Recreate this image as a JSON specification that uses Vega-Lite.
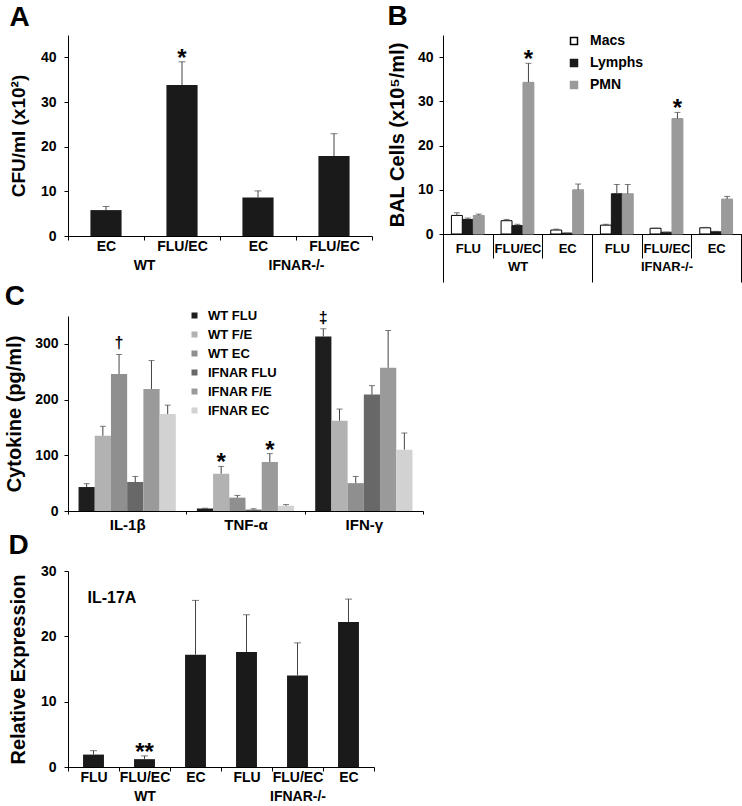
{
  "$schema": "https://vega.github.io/schema/vega-lite/v6.json",
  "padding": {"left": 4, "top": 3, "right": 0, "bottom": 0},
  "background": "white",
  "config": {
    "font": "Liberation Sans",
    "view": {"stroke": null},
    "axis": {"grid": false, "labelFontWeight": "bold", "titleFontWeight": "bold", "labelColor": "#000", "titleColor": "#000", "domainColor": "#000", "tickColor": "#000", "labelFontSize": 14, "domainWidth": 1, "tickWidth": 1},
    "title": {"fontSize": 28, "fontWeight": "bold", "anchor": "start", "frame": "bounds", "color": "#000", "offset": 3},
    "legend": {"labelFontWeight": "bold", "labelColor": "#000", "padding": 0}
  },
  "spacing": 0,
  "resolve": {"scale": {"color": "independent", "stroke": "independent", "xOffset": "independent"}, "legend": {"color": "independent", "stroke": "independent"}},
  "vconcat": [
    {
      "spacing": 14,
      "resolve": {"scale": {"color": "independent", "stroke": "independent", "xOffset": "independent"}, "legend": {"color": "independent", "stroke": "independent"}},
      "hconcat": [
        {
          "title": {"text": "A"},
          "width": 304, "height": 201,
          "data": {"values": [
            {"genotype": "WT", "cond": "WT EC", "mean": 5.8, "err": 6.6, "sig": ""},
            {"genotype": "WT", "cond": "WT FLU/EC", "mean": 33.8, "err": 39.0, "sig": "*"},
            {"genotype": "IFNAR-/-", "cond": "IFNAR-/- EC", "mean": 8.6, "err": 10.1, "sig": ""},
            {"genotype": "IFNAR-/-", "cond": "IFNAR-/- FLU/EC", "mean": 17.9, "err": 22.9, "sig": ""}
          ]},
          "resolve": {"scale": {"x": "independent"}},
          "layer": [
            {
              "encoding": {
                "x": {"field": "cond", "type": "nominal", "sort": null, "scale": {"paddingInner": 0, "paddingOuter": 0},
                  "axis": {"orient": "bottom", "title": null, "labelAngle": 0, "tickBand": "extent", "tickSize": 4, "labelPadding": -1, "labelExpr": "substring(datum.label, indexof(datum.label, ' ') + 1)"}}
              },
              "layer": [
                {"mark": {"type": "bar", "color": "#1a1a1a", "width": {"band": 0.41}},
                 "encoding": {"y": {"field": "mean", "type": "quantitative", "scale": {"domain": [0, 45], "nice": false},
                   "axis": {"title": "CFU/ml (x10²)", "values": [0, 5, 10, 15, 20, 25, 30, 35, 40, 45], "labelExpr": "datum.value % 10 === 0 ? datum.label : ''", "tickSize": 4, "labelPadding": 8, "titleFontSize": 19, "titlePadding": 12}}}},
                {"mark": {"type": "rule", "color": "#444", "strokeWidth": 1},
                 "encoding": {"y": {"field": "mean", "type": "quantitative"}, "y2": {"field": "err"}}},
                {"mark": {"type": "tick", "color": "#444", "thickness": 1, "size": 7},
                 "encoding": {"y": {"field": "err", "type": "quantitative"}}},
                {"mark": {"type": "text", "fontSize": 24, "fontWeight": "bold", "baseline": "alphabetic", "dy": 4},
                 "encoding": {"y": {"field": "err", "type": "quantitative"}, "text": {"field": "sig"}}}
              ]
            },
            {
              "mark": {"type": "text", "text": ""},
              "encoding": {
                "x": {"field": "genotype", "type": "nominal", "sort": ["WT", "IFNAR-/-"], "scale": {"paddingInner": 0, "paddingOuter": 0},
                  "axis": {"orient": "bottom", "title": null, "labelAngle": 0, "domain": false, "ticks": false, "labelPadding": 22}}
              }
            }
          ]
        },
        {
          "title": {"text": "B"},
          "width": 298, "height": 199,
          "data": {"values": [
            {"genotype": "WT", "cond": "WT FLU", "cell": "Macs", "mean": 4.2, "err": 4.8, "sig": ""},
            {"genotype": "WT", "cond": "WT FLU", "cell": "Lymphs", "mean": 3.3, "err": 3.6, "sig": ""},
            {"genotype": "WT", "cond": "WT FLU", "cell": "PMN", "mean": 4.2, "err": 4.5, "sig": ""},
            {"genotype": "WT", "cond": "WT FLU/EC", "cell": "Macs", "mean": 3.0, "err": 3.3, "sig": ""},
            {"genotype": "WT", "cond": "WT FLU/EC", "cell": "Lymphs", "mean": 1.9, "err": 2.2, "sig": ""},
            {"genotype": "WT", "cond": "WT FLU/EC", "cell": "PMN", "mean": 34.3, "err": 38.6, "sig": "*"},
            {"genotype": "WT", "cond": "WT EC", "cell": "Macs", "mean": 0.9, "err": 1.1, "sig": ""},
            {"genotype": "WT", "cond": "WT EC", "cell": "Lymphs", "mean": 0.2, "err": 0.2, "sig": ""},
            {"genotype": "WT", "cond": "WT EC", "cell": "PMN", "mean": 10.0, "err": 11.3, "sig": ""},
            {"genotype": "IFNAR-/-", "cond": "IFNAR-/- FLU", "cell": "Macs", "mean": 2.0, "err": 2.2, "sig": ""},
            {"genotype": "IFNAR-/-", "cond": "IFNAR-/- FLU", "cell": "Lymphs", "mean": 9.1, "err": 11.2, "sig": ""},
            {"genotype": "IFNAR-/-", "cond": "IFNAR-/- FLU", "cell": "PMN", "mean": 9.1, "err": 11.2, "sig": ""},
            {"genotype": "IFNAR-/-", "cond": "IFNAR-/- FLU/EC", "cell": "Macs", "mean": 1.3, "err": 1.3, "sig": ""},
            {"genotype": "IFNAR-/-", "cond": "IFNAR-/- FLU/EC", "cell": "Lymphs", "mean": 0.4, "err": 0.4, "sig": ""},
            {"genotype": "IFNAR-/-", "cond": "IFNAR-/- FLU/EC", "cell": "PMN", "mean": 26.1, "err": 27.5, "sig": "*"},
            {"genotype": "IFNAR-/-", "cond": "IFNAR-/- EC", "cell": "Macs", "mean": 1.4, "err": 1.5, "sig": ""},
            {"genotype": "IFNAR-/-", "cond": "IFNAR-/- EC", "cell": "Lymphs", "mean": 0.5, "err": 0.6, "sig": ""},
            {"genotype": "IFNAR-/-", "cond": "IFNAR-/- EC", "cell": "PMN", "mean": 7.9, "err": 8.5, "sig": ""}
          ]},
          "resolve": {"scale": {"x": "independent"}},
          "layer": [
            {
              "encoding": {
                "x": {"field": "cond", "type": "nominal", "sort": null, "scale": {"paddingInner": 0, "paddingOuter": 0},
                  "axis": {"orient": "bottom", "title": null, "labelAngle": 0, "tickBand": "extent", "tickSize": 24, "labelPadding": -16, "labelFontSize": 13, "labelExpr": "substring(datum.label, indexof(datum.label, ' ') + 1)"}},
                "xOffset": {"field": "cell", "type": "nominal", "sort": ["Macs", "Lymphs", "PMN"], "scale": {"domain": ["Macs", "Lymphs", "PMN"], "paddingInner": 0, "paddingOuter": 0.77}}
              },
              "layer": [
                {"mark": {"type": "bar", "strokeWidth": 1},
                 "encoding": {
                   "y": {"field": "mean", "type": "quantitative", "scale": {"domain": [0, 45], "nice": false},
                     "axis": {"title": "BAL Cells (x10⁵/ml)", "values": [0, 5, 10, 15, 20, 25, 30, 35, 40, 45], "labelExpr": "datum.value % 10 === 0 ? datum.label : ''", "tickSize": 4, "labelPadding": 6, "titleFontSize": 20, "titlePadding": 10}},
                   "color": {"field": "cell", "type": "nominal", "sort": ["Macs", "Lymphs", "PMN"], "scale": {"domain": ["Macs", "Lymphs", "PMN"], "range": ["#ffffff", "#1a1a1a", "#9a9a9a"]},
                     "legend": {"title": null, "orient": "none", "legendX": 124, "legendY": -1, "symbolType": "square", "symbolSize": 49, "labelFontSize": 14, "rowPadding": 8, "labelOffset": 9}},
                   "stroke": {"field": "cell", "type": "nominal", "sort": ["Macs", "Lymphs", "PMN"], "scale": {"domain": ["Macs", "Lymphs", "PMN"], "range": ["#000000", "#1a1a1a", "#9a9a9a"]},
                     "legend": {"title": null, "orient": "none", "legendX": 124, "legendY": -1, "symbolType": "square", "symbolSize": 49, "labelFontSize": 14, "rowPadding": 8, "labelOffset": 9}}
                 }},
                {"mark": {"type": "rule", "color": "#444", "strokeWidth": 1},
                 "encoding": {"y": {"field": "mean", "type": "quantitative"}, "y2": {"field": "err"}}},
                {"mark": {"type": "tick", "color": "#444", "thickness": 1, "size": 6},
                 "encoding": {"y": {"field": "err", "type": "quantitative"}}},
                {"mark": {"type": "text", "fontSize": 24, "fontWeight": "bold", "baseline": "alphabetic", "dy": 4},
                 "encoding": {"y": {"field": "err", "type": "quantitative"}, "text": {"field": "sig"}}}
              ]
            },
            {
              "mark": {"type": "text", "text": ""},
              "encoding": {
                "x": {"field": "genotype", "type": "nominal", "sort": ["WT", "IFNAR-/-"], "scale": {"paddingInner": 0, "paddingOuter": 0},
                  "axis": {"orient": "bottom", "title": null, "labelAngle": 0, "domain": false, "tickBand": "extent", "tickSize": 48, "labelPadding": -22, "labelFontSize": 13}}
              }
            }
          ]
        }
      ]
    },
    {
      "title": {"text": "C", "offset": -2},
      "width": 355, "height": 195,
      "data": {"values": [
        {"cytokine": "IL-1β", "group": "WT FLU", "mean": 43, "err": 49, "sig": ""},
        {"cytokine": "IL-1β", "group": "WT F/E", "mean": 135, "err": 152, "sig": ""},
        {"cytokine": "IL-1β", "group": "WT EC", "mean": 246, "err": 281, "sig": "†"},
        {"cytokine": "IL-1β", "group": "IFNAR FLU", "mean": 52, "err": 62, "sig": ""},
        {"cytokine": "IL-1β", "group": "IFNAR F/E", "mean": 219, "err": 270, "sig": ""},
        {"cytokine": "IL-1β", "group": "IFNAR EC", "mean": 174, "err": 190, "sig": ""},
        {"cytokine": "TNF-α", "group": "WT FLU", "mean": 4.5, "err": 5, "sig": ""},
        {"cytokine": "TNF-α", "group": "WT F/E", "mean": 67, "err": 80, "sig": "*"},
        {"cytokine": "TNF-α", "group": "WT EC", "mean": 24, "err": 28, "sig": ""},
        {"cytokine": "TNF-α", "group": "IFNAR FLU", "mean": 2.5, "err": 4, "sig": ""},
        {"cytokine": "TNF-α", "group": "IFNAR F/E", "mean": 88, "err": 103, "sig": "*"},
        {"cytokine": "TNF-α", "group": "IFNAR EC", "mean": 9.5, "err": 11.5, "sig": ""},
        {"cytokine": "IFN-γ", "group": "WT FLU", "mean": 313, "err": 327, "sig": "‡"},
        {"cytokine": "IFN-γ", "group": "WT F/E", "mean": 162, "err": 183, "sig": ""},
        {"cytokine": "IFN-γ", "group": "WT EC", "mean": 50, "err": 62, "sig": ""},
        {"cytokine": "IFN-γ", "group": "IFNAR FLU", "mean": 209, "err": 225, "sig": ""},
        {"cytokine": "IFN-γ", "group": "IFNAR F/E", "mean": 257, "err": 324, "sig": ""},
        {"cytokine": "IFN-γ", "group": "IFNAR EC", "mean": 110, "err": 140, "sig": ""}
      ]},
      "encoding": {
        "x": {"field": "cytokine", "type": "nominal", "sort": null, "scale": {"paddingInner": 0, "paddingOuter": 0},
          "axis": {"title": null, "labelAngle": 0, "tickBand": "extent", "tickSize": 3, "labelPadding": 3, "labelFontSize": 15}},
        "xOffset": {"field": "group", "type": "nominal", "sort": ["WT FLU", "WT F/E", "WT EC", "IFNAR FLU", "IFNAR F/E", "IFNAR EC"], "scale": {"domain": ["WT FLU", "WT F/E", "WT EC", "IFNAR FLU", "IFNAR F/E", "IFNAR EC"], "paddingInner": 0, "paddingOuter": 0.65}}
      },
      "layer": [
        {"mark": {"type": "bar"},
         "encoding": {
           "y": {"field": "mean", "type": "quantitative", "scale": {"domain": [0, 350], "nice": false},
             "axis": {"title": "Cytokine (pg/ml)", "values": [0, 50, 100, 150, 200, 250, 300, 350], "labelExpr": "datum.value % 100 === 0 ? datum.label : ''", "tickSize": 4, "labelPadding": 6, "titleFontSize": 20, "titlePadding": 10}},
           "color": {"field": "group", "type": "nominal", "sort": ["WT FLU", "WT F/E", "WT EC", "IFNAR FLU", "IFNAR F/E", "IFNAR EC"],
             "scale": {"domain": ["WT FLU", "WT F/E", "WT EC", "IFNAR FLU", "IFNAR F/E", "IFNAR EC"], "range": ["#1e1e1e", "#b2b2b2", "#8f8f8f", "#686868", "#9a9a9a", "#d2d2d2"]},
             "legend": {"title": null, "orient": "none", "legendX": 120, "legendY": -7, "symbolType": "square", "symbolSize": 36, "symbolStrokeWidth": 0, "labelFontSize": 13, "rowPadding": 5, "labelOffset": 7}}
         }},
        {"mark": {"type": "rule", "color": "#444", "strokeWidth": 1},
         "encoding": {"y": {"field": "mean", "type": "quantitative"}, "y2": {"field": "err"}}},
        {"mark": {"type": "tick", "color": "#444", "thickness": 1, "size": 6},
         "encoding": {"y": {"field": "err", "type": "quantitative"}}},
        {"transform": [{"filter": "datum.sig === '*'"}],
         "mark": {"type": "text", "fontSize": 24, "fontWeight": "bold", "baseline": "alphabetic", "dy": 4},
         "encoding": {"y": {"field": "err", "type": "quantitative"}, "text": {"field": "sig"}}},
        {"transform": [{"filter": "datum.sig === '†' || datum.sig === '‡'"}],
         "mark": {"type": "text", "fontSize": 16, "fontWeight": "bold", "color": "#000", "baseline": "alphabetic", "dy": -6},
         "encoding": {"y": {"field": "err", "type": "quantitative"}, "text": {"field": "sig"}}}
      ]
    },
    {
      "title": {"text": "D", "offset": 4},
      "width": 306, "height": 196,
      "resolve": {"scale": {"x": "independent"}},
      "layer": [
        {
          "data": {"values": [
            {"genotype": "WT", "cond": "WT FLU", "mean": 1.9, "err": 2.5, "sig": ""},
            {"genotype": "WT", "cond": "WT FLU/EC", "mean": 1.2, "err": 1.7, "sig": "**"},
            {"genotype": "WT", "cond": "WT EC", "mean": 17.2, "err": 25.5, "sig": ""},
            {"genotype": "IFNAR-/-", "cond": "IFNAR-/- FLU", "mean": 17.6, "err": 23.3, "sig": ""},
            {"genotype": "IFNAR-/-", "cond": "IFNAR-/- FLU/EC", "mean": 14.0, "err": 19.0, "sig": ""},
            {"genotype": "IFNAR-/-", "cond": "IFNAR-/- EC", "mean": 22.2, "err": 25.7, "sig": ""}
          ]},
          "encoding": {
            "x": {"field": "cond", "type": "nominal", "sort": null, "scale": {"paddingInner": 0, "paddingOuter": 0},
              "axis": {"orient": "bottom", "title": null, "labelAngle": 0, "tickBand": "extent", "tickSize": 4, "labelPadding": -1, "labelExpr": "substring(datum.label, indexof(datum.label, ' ') + 1)"}}
          },
          "layer": [
            {"mark": {"type": "bar", "color": "#1a1a1a", "width": {"band": 0.41}},
             "encoding": {"y": {"field": "mean", "type": "quantitative", "scale": {"domain": [0, 30], "nice": false},
               "axis": {"title": "Relative Expression", "values": [0, 5, 10, 15, 20, 25, 30], "labelExpr": "datum.value % 10 === 0 ? datum.label : ''", "tickSize": 4, "labelPadding": 8, "titleFontSize": 20, "titlePadding": 12}}}},
            {"mark": {"type": "rule", "color": "#444", "strokeWidth": 1},
             "encoding": {"y": {"field": "mean", "type": "quantitative"}, "y2": {"field": "err"}}},
            {"mark": {"type": "tick", "color": "#444", "thickness": 1, "size": 7},
             "encoding": {"y": {"field": "err", "type": "quantitative"}}},
            {"mark": {"type": "text", "fontSize": 24, "fontWeight": "bold", "baseline": "alphabetic", "dy": 4},
             "encoding": {"y": {"field": "err", "type": "quantitative"}, "text": {"field": "sig"}}},
            {"data": {"values": [{"cond": "WT FLU", "y": 25.9, "label": "IL-17A"}]},
             "mark": {"type": "text", "fontSize": 16, "fontWeight": "bold", "align": "left", "baseline": "middle", "dx": -6},
             "encoding": {"y": {"field": "y", "type": "quantitative"}, "text": {"field": "label"}}}
          ]
        },
        {
          "data": {"values": [{"genotype": "WT"}, {"genotype": "IFNAR-/-"}]},
          "mark": {"type": "text", "text": ""},
          "encoding": {
            "x": {"field": "genotype", "type": "nominal", "sort": ["WT", "IFNAR-/-"], "scale": {"paddingInner": 0, "paddingOuter": 0},
              "axis": {"orient": "bottom", "title": null, "labelAngle": 0, "domain": false, "ticks": false, "labelPadding": 22}}
          }
        }
      ]
    }
  ]
}
